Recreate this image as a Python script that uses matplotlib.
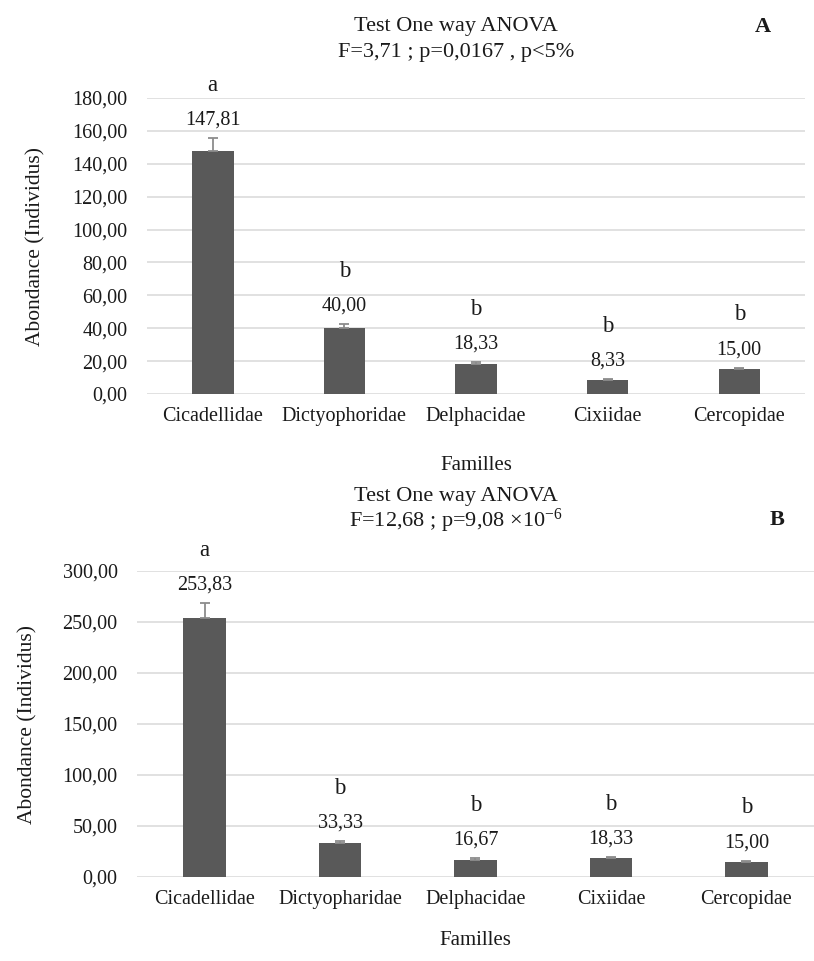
"""Abondance moyenne par famille (A et B), barres + erreur, lettres ANOVA."""
import matplotlib
matplotlib.use("Agg")
import matplotlib.pyplot as plt
from matplotlib.ticker import FuncFormatter, MultipleLocator

familles_A = ["Cicadellidae", "Dictyophoridae", "Delphacidae", "Cixiidae", "Cercopidae"]
moy_A = [147.81, 40.00, 18.33, 8.33, 15.00]
err_A = [8.0, 2.5, 1.2, 0.6, 1.0]
lettres_A = ["a", "b", "b", "b", "b"]

familles_B = ["Cicadellidae", "Dictyopharidae", "Delphacidae", "Cixiidae", "Cercopidae"]
moy_B = [253.83, 33.33, 16.67, 18.33, 15.00]
err_B = [14.5, 2.0, 1.5, 1.5, 1.0]
lettres_B = ["a", "b", "b", "b", "b"]

BAR_C = "#595959"
ERR_C = "#8c8c8c"
GRID_C = "#d9d9d9"
TXT_C = "#1a1a1a"

plt.rcParams.update({
    "font.family": ["Liberation Serif", "DejaVu Serif"],
    "mathtext.fontset": "custom",
    "mathtext.rm": "Liberation Serif",
    "mathtext.it": "Liberation Serif:italic",
    "mathtext.bf": "Liberation Serif:bold",
})

virgule = FuncFormatter(lambda v, p: f"{v:.2f}".replace(".", ","))


def panneau(ax, noms, moy, err, lettres, ymax, pas, ypad, xpad):
    x = range(len(noms))
    ax.bar(x, moy, 0.315, color=BAR_C, zorder=3)
    ax.errorbar(x, moy, yerr=[[0] * len(err), err], fmt="none", ecolor=ERR_C,
                elinewidth=1.3, capsize=3.5, capthick=1.3, zorder=4)
    for xi, m, e, l in zip(x, moy, err, lettres):
        ax.annotate(f"{m:.2f}".replace(".", ","), (xi, m + e), xytext=(0, 13),
                    textcoords="offset points", ha="center", va="center",
                    fontsize=14.5, color=TXT_C)
        ax.annotate(l, (xi, m + e), xytext=(0, 38), textcoords="offset points",
                    ha="center", va="center", fontsize=16.5, color=TXT_C)
    ax.set_xlim(-0.5, len(noms) - 0.5)
    ax.set_ylim(0, ymax)
    ax.yaxis.set_major_locator(MultipleLocator(pas))
    ax.yaxis.set_major_formatter(virgule)
    ax.grid(axis="y", color=GRID_C, lw=1.1, zorder=0)
    ax.set_axisbelow(True)
    for s in ax.spines.values():
        s.set_visible(False)
    ax.tick_params(length=0, labelsize=14.5, labelcolor=TXT_C)
    ax.tick_params(axis="y", pad=ypad)
    ax.tick_params(axis="x", pad=9)
    ax.set_xticks(list(x))
    ax.set_xticklabels(noms)
    ax.set_ylabel("Abondance (Individus)", fontsize=15.5, color=TXT_C, labelpad=xpad)


fig = plt.figure(figsize=(8.14, 9.61), dpi=100)

axA = fig.add_axes([0.1806, 0.5900, 0.8084, 0.3080])
panneau(axA, familles_A, moy_A, err_A, lettres_A, 180, 20, 14, 19)
axA.set_xlabel("Familles", fontsize=15, color=TXT_C, labelpad=22)

axB = fig.add_axes([0.1683, 0.0874, 0.8317, 0.3184])
panneau(axB, familles_B, moy_B, err_B, lettres_B, 300, 50, 14, 18)
axB.set_xlabel("Familles", fontsize=15, color=TXT_C, labelpad=16)

fig.text(0.560, 1 - 27 / 961, "Test One way ANOVA", ha="center", va="center",
         fontsize=16, color=TXT_C)
fig.text(0.560, 1 - 52 / 961, "F=3,71 ; p=0,0167 , p<5%", ha="center", va="center",
         fontsize=16, color=TXT_C)
fig.text(763 / 814, 1 - 27 / 961, "A", ha="center", va="center", fontsize=16,
         fontweight="bold", color=TXT_C)

fig.text(0.560, 1 - 496 / 961, "Test One way ANOVA", ha="center", va="center",
         fontsize=16, color=TXT_C)
fig.text(0.560, 1 - 521 / 961, r"F=12,68 ; p=9,08 ×10$^{-6}$", ha="center",
         va="center", fontsize=16, color=TXT_C)
fig.text(777 / 814, 1 - 520 / 961, "B", ha="center", va="center", fontsize=16,
         fontweight="bold", color=TXT_C)

fig.savefig("out.png", dpi=100)
